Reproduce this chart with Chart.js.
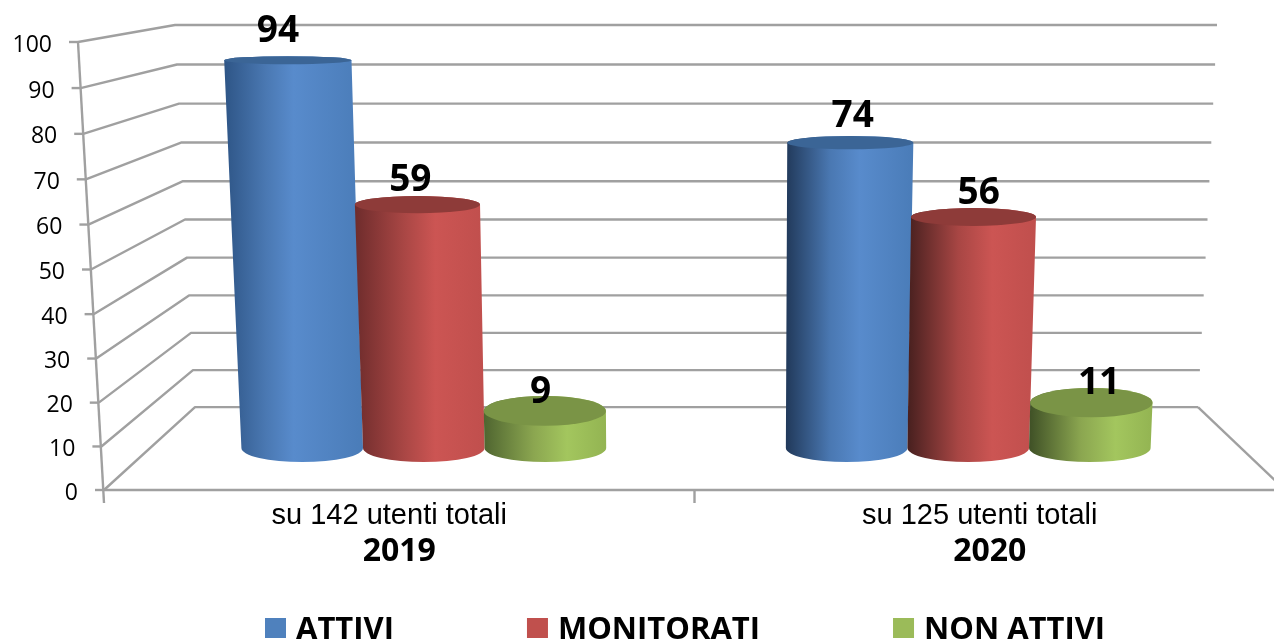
<!DOCTYPE html>
<html>
<head>
<meta charset="utf-8">
<title>Utenti attivi</title>
<script src="https://cdn.jsdelivr.net/npm/chart.js@4/dist/chart.umd.js"></script>
<style>
  html, body { margin: 0; background: #fff; overflow: hidden; }
  #wrap { width: 1285px; height: 641px; }
</style>
</head>
<body>
<div id="wrap"><canvas id="canvas" width="1285" height="641"></canvas></div>
<script>
'use strict'

var categories = ['su 142 utenti totali', 'su 125 utenti totali']
var years = ['2019', '2020']
var attivi = [94, 74]
var monitorati = [59, 56]
var nonAttivi = [9, 11]
var valueTicks = [0, 10, 20, 30, 40, 50, 60, 70, 80, 90, 100]

var GREY = '#a0a0a0'
var NUM_FONT = '"Open Sans", sans-serif'

// look of each cylinder: side gradient for the left and right group, flat lid
var looks = [
  { lid: '#3b6596', left: ['#2e5586', '#21395a'], mid: '#4a78b2', high: '#588bcc', right: '#4a7cb8', at: [0.5, 0.58] },
  { lid: '#8e3b39', left: ['#6e2c2c', '#47201f'], mid: '#a84644', high: '#cc5553', right: '#c04f4d', at: [0.62, 0.66] },
  { lid: '#7a9446', left: ['#4f6530', '#3f5026'], mid: '#8ba650', high: '#a3c65e', right: '#93b452', at: [0.68, 0.7] }
]

// fake 3D: how far the gridlines lean, per unit of value
function frontX (area, v) { return area.left - 0.26 * v }
function backLeftX (v) { return 195 - 0.2 * v }
function backRightX (v) { return 1198 + 0.19 * v }
// the value axis is slightly bowed in the picture
function bow (v) { return 0.0014 * v * (100 - v) }

var vanishX = 714
var floorScale = 0.922
var riseScale = 0.00009

function lidHeight (y) { return 2.2 + 0.031 * y }

function line (ctx, x1, y1, x2, y2) {
  ctx.beginPath()
  ctx.moveTo(x1, y1)
  ctx.lineTo(x2, y2)
  ctx.stroke()
}

function drawWalls (chart) {
  var ctx = chart.ctx
  var area = chart.chartArea
  var y = chart.scales.y
  var back = chart.scales.yBack
  var x = chart.scales.x
  ctx.save()
  ctx.strokeStyle = GREY
  ctx.lineWidth = 2.4
  ctx.lineJoin = 'round'
  valueTicks.forEach(function (v) {
    var fy = y.getPixelForValue(v) + bow(v)
    var by = back.getPixelForValue(v) + bow(v)
    ctx.beginPath()
    ctx.moveTo(frontX(area, v), fy)
    ctx.lineTo(backLeftX(v), by)
    ctx.lineTo(backRightX(v), by)
    ctx.stroke()
    line(ctx, frontX(area, v) - 9, fy, frontX(area, v), fy)
  })
  // floor and axes
  var by0 = back.getPixelForValue(0)
  line(ctx, backRightX(0), by0, area.right, area.bottom)
  line(ctx, area.left, area.bottom, area.right, area.bottom)
  line(ctx, frontX(area, 100), y.getPixelForValue(100), area.left, area.bottom + 13)
  line(ctx, x.getPixelForValue(0.5), area.bottom, x.getPixelForValue(0.5), area.bottom + 13)
  ctx.restore()

  ctx.save()
  ctx.fillStyle = '#000'
  ctx.font = '23px ' + NUM_FONT
  ctx.textAlign = 'right'
  ctx.textBaseline = 'middle'
  valueTicks.forEach(function (v) {
    ctx.fillText(String(v), frontX(area, v) - 26, y.getPixelForValue(v) + bow(v) + 3)
  })
  ctx.restore()
}

function drawCylinder (ctx, bar, look, group) {
  var y0 = bar.base
  var y1 = bar.y
  var s0 = floorScale
  var s1 = floorScale * (1 + riseScale * (y0 - y1))
  var cx0 = vanishX + (bar.x - vanishX) * s0
  var cx1 = vanishX + (bar.x - vanishX) * s1
  var r0 = bar.width * s0 / 2
  var r1 = bar.width * s1 / 2 * (1 + 0.00003 * (y0 - y1))
  var h0 = lidHeight(y0) - 2
  var h1 = lidHeight(y1)
  var xl = Math.min(cx0 - r0, cx1 - r1)
  var xr = Math.max(cx0 + r0, cx1 + r1)

  var g = ctx.createLinearGradient(xl, 0, xr, 0)
  g.addColorStop(0, look.left[group])
  g.addColorStop(look.at[group] * 0.6, look.mid)
  g.addColorStop(look.at[group], look.high)
  g.addColorStop(1, look.right)

  ctx.beginPath()
  ctx.moveTo(cx1 - r1, y1)
  ctx.lineTo(cx0 - r0, y0)
  ctx.ellipse(cx0, y0, r0, h0, 0, Math.PI, 0, true)
  ctx.lineTo(cx1 + r1, y1)
  ctx.ellipse(cx1, y1, r1, h1, 0, 0, Math.PI, true)
  ctx.closePath()
  ctx.fillStyle = g
  ctx.fill()

  ctx.beginPath()
  ctx.ellipse(cx1, y1, r1, h1, 0, 0, Math.PI * 2)
  ctx.fillStyle = look.lid
  ctx.fill()
  return cx1
}

var cylinderPlugin = {
  id: 'cylinders',
  beforeDatasetsDraw: function (chart) {
    var ctx = chart.ctx
    drawWalls(chart)
    var tops = []
    chart.data.datasets.forEach(function (set, i) {
      chart.getDatasetMeta(i).data.forEach(function (bar, j) {
        var cx = drawCylinder(ctx, bar, looks[i], j)
        tops.push({ x: cx, y: bar.y, value: set.data[j] })
      })
    })
    // value labels sit above the lids, leaning with the perspective
    ctx.save()
    ctx.fillStyle = '#000'
    ctx.font = 'bold 37px ' + NUM_FONT
    ctx.textAlign = 'center'
    ctx.textBaseline = 'middle'
    tops.forEach(function (t) {
      ctx.fillText(String(t.value), t.x + (t.x - 695) * 0.022 - 1, t.y - 30 + 0.028 * t.y)
    })
    ctx.restore()
    return false
  },
  afterDraw: function (chart) {
    var ctx = chart.ctx
    var x = 265
    ctx.save()
    ctx.font = 'bold 31px ' + NUM_FONT
    ctx.textBaseline = 'middle'
    chart.data.datasets.forEach(function (set) {
      ctx.fillStyle = set.backgroundColor
      ctx.fillRect(x, 618, 21, 20)
      ctx.fillStyle = '#000'
      ctx.fillText(set.label, x + 31, 630)
      x += 31 + ctx.measureText(set.label).width + 133
    })
    ctx.restore()
  }
}

new Chart(document.getElementById('canvas').getContext('2d'), {
  type: 'bar',
  data: {
    labels: categories,
    datasets: [
      { label: 'ATTIVI', data: attivi, backgroundColor: '#4f81bd', yAxisID: 'yBar' },
      { label: 'MONITORATI', data: monitorati, backgroundColor: '#c0504d', yAxisID: 'yBar' },
      { label: 'NON ATTIVI', data: nonAttivi, backgroundColor: '#9bbb59', yAxisID: 'yBar' }
    ]
  },
  plugins: [cylinderPlugin],
  options: {
    responsive: false,
    animation: false,
    layout: { padding: { left: 104, top: 42, right: 0, bottom: 76 } },
    datasets: { bar: { barPercentage: 1, categoryPercentage: 0.67 } },
    plugins: { legend: { display: false }, tooltip: { enabled: false } },
    scales: {
      x: {
        grid: { display: false },
        border: { display: false },
        ticks: {
          font: { family: '"Liberation Sans", sans-serif', size: 29 },
          color: '#000',
          padding: 1,
          labelOffset: -10,
          maxRotation: 0,
          autoSkip: false
        },
        afterFit: function (s) { s.height = 35 }
      },
      xYear: {
        type: 'category',
        labels: years,
        position: 'bottom',
        weight: 1,
        grid: { display: false },
        border: { display: false },
        ticks: {
          font: { family: NUM_FONT, size: 32, weight: 'bold' },
          color: '#000',
          padding: 0,
          maxRotation: 0,
          autoSkip: false
        },
        afterFit: function (s) { s.height = 40 }
      },
      y: { display: false, min: 0, max: 100, ticks: { stepSize: 10 } },
      yBack: { display: false, min: -21.7, max: 95.55 },
      yBar: { display: false, min: -10.18, max: 98.42 }
    }
  }
})
</script>
</body>
</html>
